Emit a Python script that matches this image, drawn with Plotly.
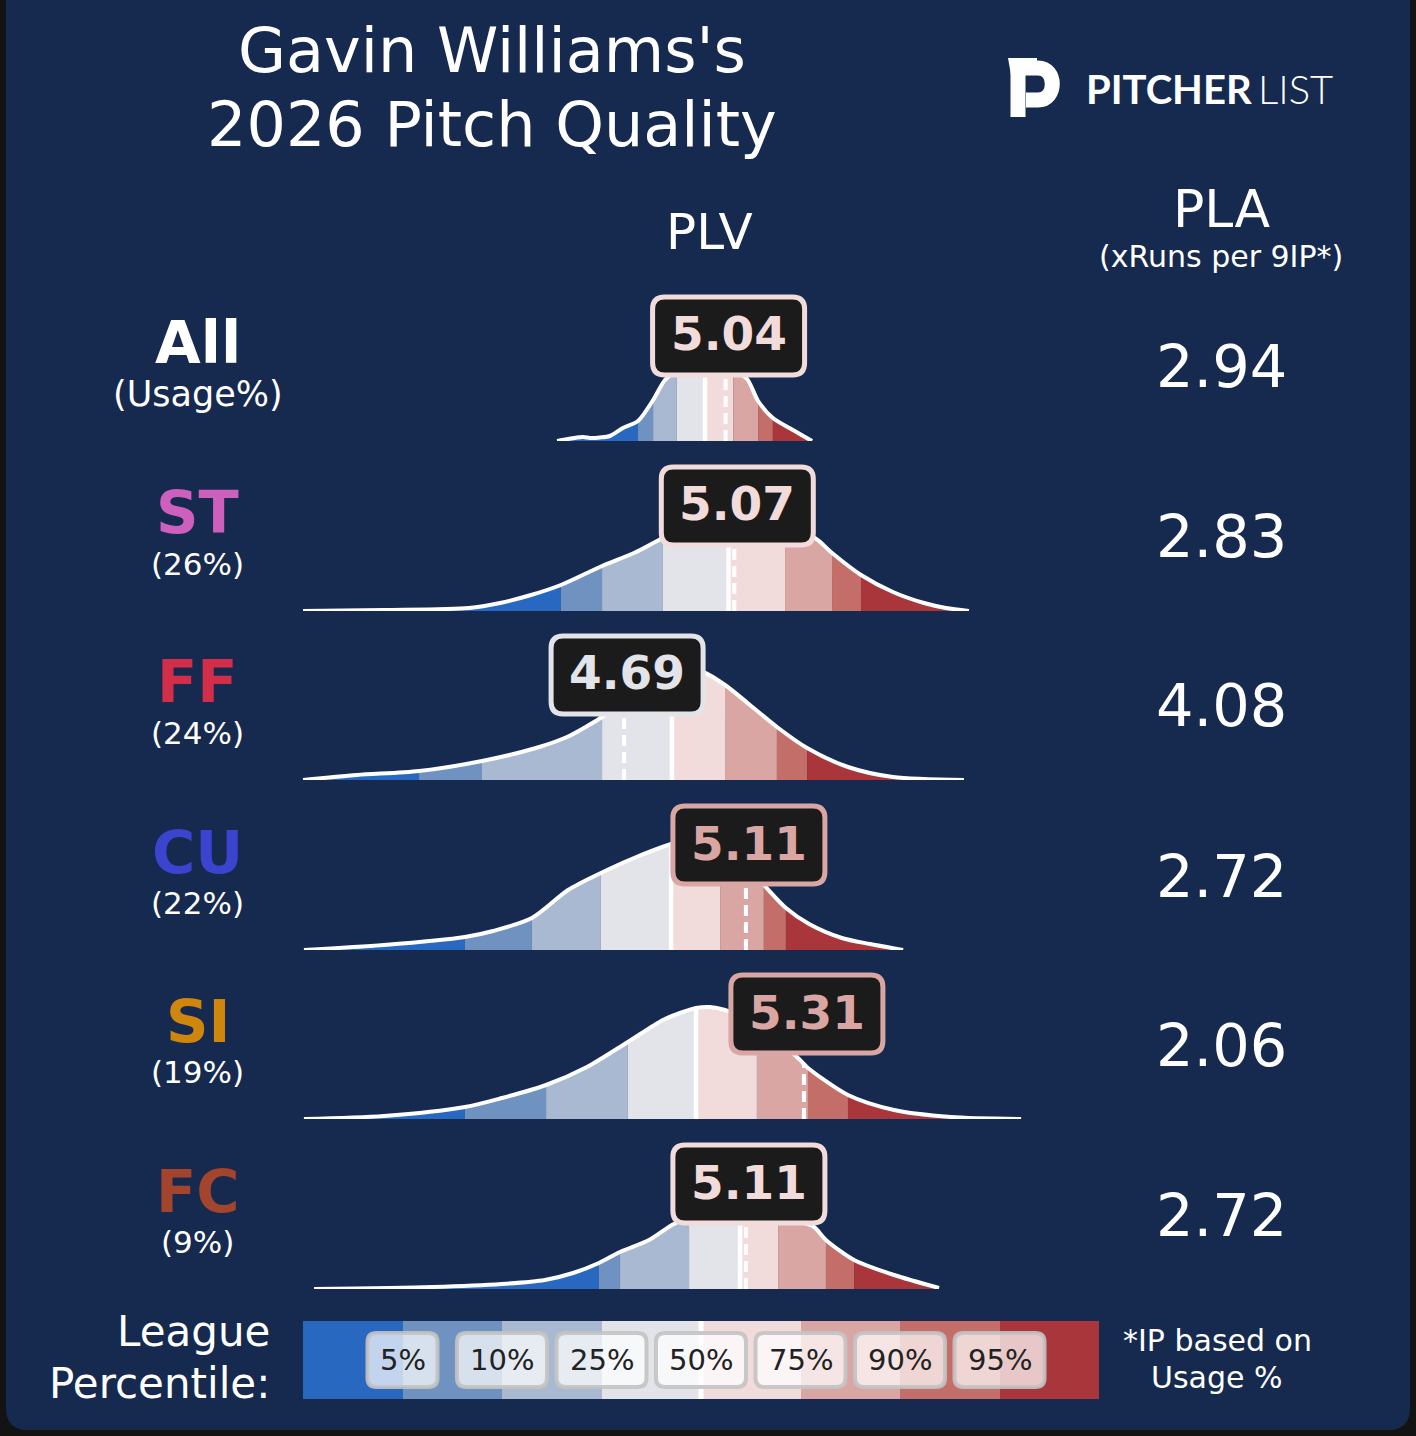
import numpy as np
import plotly.graph_objects as go

# ---- values ----
pitch_types = ["All", "ST", "FF", "CU", "SI", "FC"]
usage_labels = ["(Usage%)", "(26%)", "(24%)", "(22%)", "(19%)", "(9%)"]
pitch_colors = ["#ffffff", "#cd5fbd", "#d22d49", "#3b44cf", "#cf860d", "#a3442d"]
plv_values = [5.04, 5.07, 4.69, 5.11, 5.31, 5.11]
pla_values = [2.94, 2.83, 4.08, 2.72, 2.06, 2.72]

percentile_labels = ["5%", "10%", "25%", "50%", "75%", "90%", "95%"]
band_colors = ["#2968c0", "#6f92c0", "#a9b9d2", "#e3e4ea",
               "#f2dcdb", "#d9a6a3", "#c46e6a", "#a8363b"]

# league PLV percentiles (5, 10, 25, 50, 75, 90, 95) for each row
pct_all = [4.738, 4.790, 4.872, 4.969, 5.066, 5.152, 5.203]
pct_st = [4.472, 4.614, 4.824, 5.050, 5.245, 5.407, 5.507]
pct_ff = [3.983, 4.200, 4.614, 4.855, 5.038, 5.217, 5.321]
pct_cu = [4.141, 4.372, 4.610, 4.852, 5.021, 5.172, 5.248]
pct_si = [4.141, 4.421, 4.703, 4.938, 5.148, 5.324, 5.462]
pct_fc = [4.603, 4.676, 4.914, 5.090, 5.221, 5.386, 5.483]

# league PLV density curves (PLV sample, curve height)
all_x = [4.459, 4.548, 4.572, 4.607, 4.641, 4.686, 4.738, 4.790, 4.831, 4.872,
         4.917, 4.969, 5.021, 5.040, 5.066, 5.114, 5.152, 5.203, 5.272, 5.338]
all_y = [0, 4, 3, 3.5, 5, 13, 20, 41, 61, 70,
         75, 76, 74, 72, 70, 62, 40, 23, 11, 0]

st_x = [3.583, 3.862, 4.155, 4.262, 4.369, 4.472, 4.614, 4.724, 4.824, 4.883, 4.952,
        5.050, 5.070, 5.124, 5.245, 5.348, 5.407, 5.507, 5.617, 5.724, 5.800, 5.879]
st_y = [0, 1, 3, 8, 16, 26, 45, 58, 73, 80, 86,
        90, 90, 89, 83, 73, 58, 36, 19, 8, 3, 0]

ff_x = [3.583, 3.769, 3.983, 4.200, 4.386, 4.493, 4.569, 4.614, 4.690, 4.779,
        4.855, 4.917, 4.962, 5.038, 5.124, 5.217, 5.321, 5.462, 5.617, 5.862]
ff_y = [0, 5, 9, 19, 32, 43, 55, 63, 80, 97,
        106, 110, 108, 95, 75, 53, 32, 13, 3, 0]

cu_x = [3.586, 3.862, 4.141, 4.238, 4.372, 4.497, 4.610, 4.724, 4.852, 4.900,
        4.952, 5.021, 5.110, 5.172, 5.248, 5.328, 5.441, 5.538, 5.652]
cu_y = [0, 5, 13, 19, 32, 60, 77, 92, 106, 110,
        110, 102, 85, 65, 42, 26, 12, 6, 0]

si_x = [3.586, 3.862, 4.141, 4.269, 4.421, 4.562, 4.703, 4.824, 4.883, 4.938, 4.986,
        5.038, 5.072, 5.148, 5.228, 5.286, 5.310, 5.324, 5.462, 5.621, 5.817, 6.059]
si_y = [0, 3, 12, 21, 34, 52, 77, 99, 106, 111, 112,
        109, 105, 92, 76, 62, 55, 51, 24, 9, 2, 0]

fc_x = [3.621, 4.028, 4.269, 4.417, 4.514, 4.603, 4.676, 4.776, 4.855, 4.914,
        4.986, 5.090, 5.110, 5.221, 5.297, 5.345, 5.386, 5.483, 5.621, 5.776]
fc_y = [0, 2, 5, 9, 16, 26, 37, 49, 64, 72,
        78, 80, 80, 74, 67, 62, 49, 29, 14, 1]

curves = [(all_x, all_y, pct_all), (st_x, st_y, pct_st), (ff_x, ff_y, pct_ff),
          (cu_x, cu_y, pct_cu), (si_x, si_y, pct_si), (fc_x, fc_y, pct_fc)]

# ---- layout constants (pixels of the 1416x1436 canvas) ----
W, H = 1416, 1436
NAVY = "#162a4f"
FONT = "DejaVu Sans"
row_base = [441, 611, 780, 950, 1119, 1289]   # baseline of each density row
ROW_H = 160                                   # axis height in px (range 0..160)
PX_PER_PLV, PX_OFFSET = 290.0, 736.0          # x_px = 290 * plv - 736


def px(x):
    return x / W


def py(y):
    return 1 - y / H


def rounded(cx, cy, hw, hh, r):
    # rounded rectangle path, pixel offsets around an anchor
    return (f"M {cx-hw+r},{cy-hh} L {cx+hw-r},{cy-hh} Q {cx+hw},{cy-hh} {cx+hw},{cy-hh+r} "
            f"L {cx+hw},{cy+hh-r} Q {cx+hw},{cy+hh} {cx+hw-r},{cy+hh} "
            f"L {cx-hw+r},{cy+hh} Q {cx-hw},{cy+hh} {cx-hw},{cy+hh-r} "
            f"L {cx-hw},{cy-hh+r} Q {cx-hw},{cy-hh} {cx-hw+r},{cy-hh} Z")


fig = go.Figure()
shapes = []
annotations = []
layout_axes = {}


def note(x, y, s, size, xref="paper", yref="paper", anchor="center", family=FONT,
         color="white", weight=None, **kw):
    f = dict(family=family, size=size, color=color)
    if weight:
        f["weight"] = weight
    annotations.append(dict(x=x, y=y, xref=xref, yref=yref, text=s, showarrow=False,
                            xanchor=anchor, yanchor="middle", font=f, **kw))


for i, (xs, ys, pct) in enumerate(curves):
    xs = np.array(xs)
    ys = np.array(ys)
    yname = "y" if i == 0 else f"y{i+1}"
    ykey = "yaxis" if i == 0 else f"yaxis{i+1}"
    base = row_base[i]
    layout_axes[ykey] = dict(domain=[py(base), py(base - ROW_H)], range=[0, ROW_H],
                             visible=False, fixedrange=True, anchor="x")

    # percentile bands under the curve
    edges = [xs[0]] + list(pct) + [xs[-1]]
    for b in range(8):
        lo, hi = edges[b], edges[b + 1]
        m = (xs >= lo - 1e-9) & (xs <= hi + 1e-9)
        fig.add_trace(go.Scatter(
            x=xs[m], y=ys[m], mode="lines", fill="tozeroy",
            fillcolor=band_colors[b], line=dict(width=0, shape="spline", smoothing=0.8),
            xaxis="x", yaxis=yname, hoverinfo="skip"))

    # league median
    k50 = int(np.argmin(np.abs(xs - pct[3])))
    fig.add_trace(go.Scatter(
        x=[pct[3], pct[3]], y=[0, ys[k50]], mode="lines",
        line=dict(color="white", width=4.5), xaxis="x", yaxis=yname, hoverinfo="skip"))

    # pitcher value
    v = plv_values[i]
    kv = int(np.argmin(np.abs(xs - v)))
    fig.add_trace(go.Scatter(
        x=[v, v], y=[0, ys[kv]], mode="lines",
        line=dict(color="white", width=4, dash="11px,6px"),
        xaxis="x", yaxis=yname, hoverinfo="skip"))

    # outline
    fig.add_trace(go.Scatter(
        x=xs, y=ys, mode="lines",
        line=dict(color="white", width=4, shape="spline", smoothing=0.8),
        xaxis="x", yaxis=yname, hoverinfo="skip"))

    # value box
    band = int(np.searchsorted(pct, v))
    col = band_colors[band]
    shapes.append(dict(type="path", xref="x", yref=yname, xsizemode="pixel", ysizemode="pixel",
                       xanchor=v, yanchor=105, path=rounded(3, 0, 76, 39, 12),
                       fillcolor="#1b1b1b", line=dict(color=col, width=5), layer="above"))
    note(v, 105, f"<b>{v:.2f}</b>", 47, xref="x", yref=yname, color=col, xshift=3, yshift=2)

    # row label + usage, PLA value
    note(px(198), 98, f"<b>{pitch_types[i]}</b>", 59, yref=yname, color=pitch_colors[i])
    note(px(198), 47, usage_labels[i], 35 if i == 0 else 31, yref=yname)
    note(px(1221), 74, f"{pla_values[i]:.2f}", 59, yref=yname)

# ---- legend bar ----
n_bands = len(band_colors)
cscale = []
for b, c in enumerate(band_colors):
    cscale += [[b / n_bands, c], [(b + 1) / n_bands, c]]
fig.add_trace(go.Heatmap(z=[list(range(n_bands))], x=list(range(n_bands)), y=[0],
                         colorscale=cscale, zmin=-0.5, zmax=n_bands - 0.5, showscale=False,
                         xaxis="x2", yaxis="y7", hoverinfo="skip"))
fig.add_trace(go.Scatter(x=[3.5, 3.5], y=[-0.5, 0.5], mode="lines",
                         line=dict(color="white", width=5), xaxis="x2", yaxis="y7",
                         hoverinfo="skip"))
for j, lab in enumerate(percentile_labels):
    hw = 35 if len(lab) == 2 else 45
    shapes.append(dict(type="path", xref="x2", yref="y7", xsizemode="pixel", ysizemode="pixel",
                       xanchor=j + 0.5, yanchor=0, path=rounded(0, 0, hw, 27, 9),
                       fillcolor="rgba(255,255,255,0.72)",
                       line=dict(color="rgba(195,195,195,0.9)", width=4), layer="above"))
    note(j + 0.5, 0, lab, 29, xref="x2", yref="y7", color="#222222")

# ---- card background and logo ----
shapes.insert(0, dict(type="path", xref="paper", yref="paper", xsizemode="pixel",
                      ysizemode="pixel", xanchor=0, yanchor=1, layer="below",
                      path=rounded(708, -700, 702, 730, 22), fillcolor=NAVY, line=dict(width=0)))
shapes.append(dict(type="path", xref="paper", yref="paper", xsizemode="pixel", ysizemode="pixel",
                   xanchor=px(1035), yanchor=py(88),
                   path="M -17,-29 L -17,20 L 3,20 C 22,20 22,-12 3,-12 L -9,-12",
                   line=dict(color="white", width=15), fillcolor="rgba(0,0,0,0)"))
shapes.append(dict(type="path", xref="paper", yref="paper", xsizemode="pixel", ysizemode="pixel",
                   xanchor=px(1035), yanchor=py(88),
                   path="M -27,30 L 2,30 L 2,14 L -24,13 Z",
                   line=dict(width=0), fillcolor="white"))

# ---- headers and notes ----
note(px(492), py(50), "Gavin Williams's", 62)
note(px(492), py(124), "2026 Pitch Quality", 62)
note(px(1254), py(89), "<b>PITCHER</b>", 40, anchor="right", family="Lato")
note(px(1256), py(89), "LIST", 40, anchor="left", family="Lato", weight=300)
note(px(710), py(232), "PLV", 50)
note(px(1222), py(209), "PLA", 52)
note(px(1221), py(257), "(xRuns per 9IP*)", 30)
note(px(272), py(1331), "League", 42, anchor="right")
note(px(272), py(1383), "Percentile:", 42, anchor="right")
note(px(1217), py(1340), "*IP based on", 30)
note(px(1217), py(1377), "Usage %", 30)

layout_axes["xaxis"] = dict(domain=[0, 1],
                            range=[PX_OFFSET / PX_PER_PLV, (W + PX_OFFSET) / PX_PER_PLV],
                            visible=False, fixedrange=True, anchor="y")
layout_axes["xaxis2"] = dict(domain=[px(303), px(1099)], range=[-0.5, n_bands - 0.5],
                             visible=False, fixedrange=True, anchor="y7")
layout_axes["yaxis7"] = dict(domain=[py(1399), py(1321)], range=[-0.5, 0.5],
                             visible=False, fixedrange=True, anchor="x2")

fig.update_layout(
    width=W, height=H, margin=dict(l=0, r=0, t=0, b=0),
    paper_bgcolor="#131313", plot_bgcolor="rgba(0,0,0,0)",
    showlegend=False, font=dict(family=FONT, color="white"),
    shapes=shapes, annotations=annotations, **layout_axes)

fig.write_html("out.html", config={"displayModeBar": False},
               post_script="document.body.style.margin='0';")
